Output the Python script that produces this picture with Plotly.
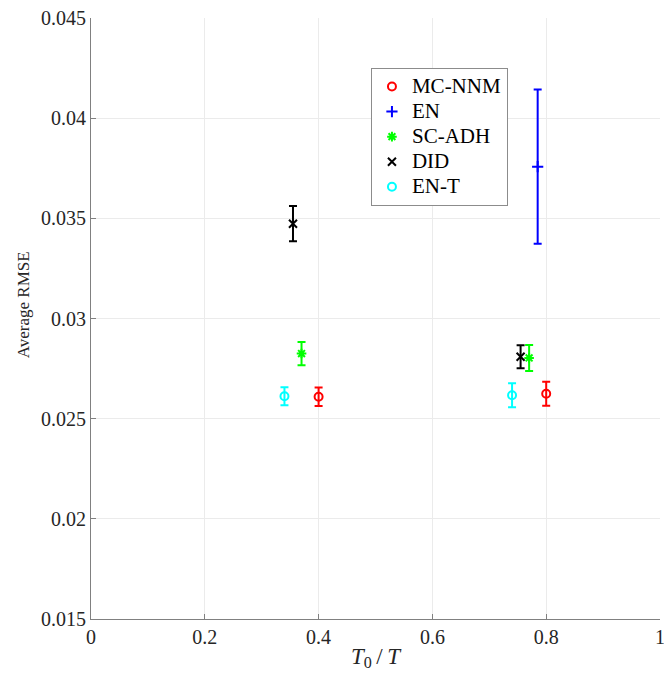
import plotly.graph_objects as go

series_names = ["MC-NNM", "EN", "SC-ADH", "DID", "EN-T"]
colors = ["#ff0000", "#0000ff", "#00ff00", "#000000", "#00ffff"]
symbols = ["circle-open", "cross-thin-open", "asterisk-open", "x-thin-open", "circle-open"]

mc_x = [0.40, 0.80]
mc_y = [0.02609, 0.02624]
mc_err = [0.00046, 0.00060]

en_x = [0.785]
en_y = [0.03758]
en_err = [0.00385]

sc_x = [0.37, 0.77]
sc_y = [0.02825, 0.02803]
sc_err = [0.00058, 0.00065]

did_x = [0.355, 0.755]
did_y = [0.03473, 0.02809]
did_err = [0.00088, 0.00057]

ent_x = [0.34, 0.74]
ent_y = [0.02612, 0.02617]
ent_err = [0.00045, 0.00060]

x_ticks = [0, 0.2, 0.4, 0.6, 0.8, 1]
x_tick_labels = ["0", "0.2", "0.4", "0.6", "0.8", "1"]
y_ticks = [0.015, 0.02, 0.025, 0.03, 0.035, 0.04, 0.045]
y_tick_labels = ["0.015", "0.02", "0.025", "0.03", "0.035", "0.04", "0.045"]

data = [
    (mc_x, mc_y, mc_err),
    (en_x, en_y, en_err),
    (sc_x, sc_y, sc_err),
    (did_x, did_y, did_err),
    (ent_x, ent_y, ent_err),
]

fig = go.Figure()
for name, col, sym, (xs, ys, es) in zip(series_names, colors, symbols, data):
    fig.add_trace(go.Scatter(
        x=xs, y=ys, name=f'<span style="font-size:21px">{name}</span>', mode="markers",
        marker=dict(symbol=sym, color=col, size=8, line=dict(color=col, width=2)),
        error_y=dict(type="data", array=es, visible=True, color=col, thickness=2, width=4),
    ))

font_family = "Liberation Serif"
fig.update_layout(
    width=664, height=677,
    margin=dict(l=91, r=4, t=18, b=58, autoexpand=False),
    paper_bgcolor="white", plot_bgcolor="white",
    font=dict(family=font_family, size=20, color="#262626"),
    showlegend=True,
    legend=dict(
        x=0.492, y=0.917, xanchor="left", yanchor="top",
        bgcolor="white", bordercolor="#8c8c8c", borderwidth=1,
        font=dict(family=font_family, size=17, color="#000000"),
        itemwidth=30, tracegroupgap=0,
    ),
    xaxis=dict(
        range=[0, 1], tickvals=x_ticks, ticktext=x_tick_labels,
        showgrid=True, gridcolor="#ebebeb", gridwidth=1,
        showline=True, linecolor="#808080", linewidth=1,
        ticks="inside", ticklen=5, tickcolor="#808080",
        zeroline=False, mirror=False, automargin=False,
        ticklabeloverflow="allow",
        title=dict(text="<i>T</i><sub>0</sub>\u2009/\u2009<i>T</i>", font=dict(size=23, family=font_family), standoff=0),
        tickfont=dict(size=20, family=font_family),
    ),
    yaxis=dict(
        range=[0.015, 0.045], tickvals=y_ticks, ticktext=y_tick_labels,
        showgrid=True, gridcolor="#ebebeb", gridwidth=1,
        showline=True, linecolor="#808080", linewidth=1,
        ticks="inside", ticklen=5, tickcolor="#808080",
        zeroline=False, mirror=False, automargin=False,
        ticklabeloverflow="allow",
        tickfont=dict(size=20, family=font_family),
    ),
    annotations=[dict(
        text="Average RMSE", xref="paper", yref="paper",
        x=-0.1186, y=0.523, xanchor="center", yanchor="middle",
        textangle=-90, showarrow=False,
        font=dict(size=17, family=font_family, color="#262626"),
    )],
)

fig.write_html("out.html", config={"displayModeBar": False},
               post_script="document.body.style.margin='0';")
